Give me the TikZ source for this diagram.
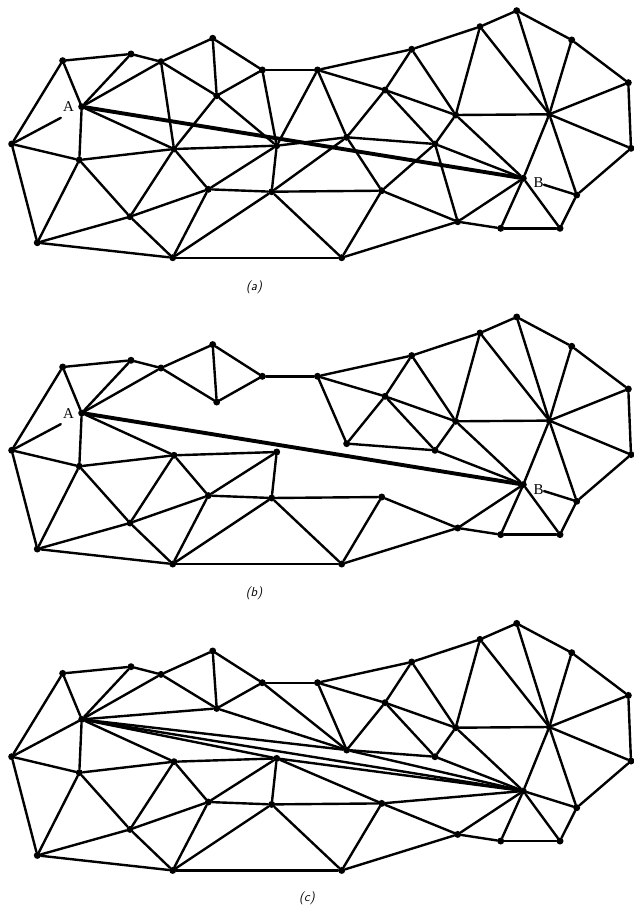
\documentclass[tikz,border=0pt]{standalone}
\usepackage{fontspec}
\newfontfamily\lblfont{Liberation Serif}
\newcommand\VertList{1/62.7/60.7, 2/131/54, 3/161/61.7, 4/212.7/38.3, 5/262.3/70, 6/317.5/70,
 A/81.7/106.7, 7/11.7/144, 8/216.7/95.7, 9/174/149, 10/276.7/145.7, 11/79.3/160,
 12/208.3/189.3, 13/271.7/191.7, 14/130/216.7, 15/37.3/242.7, 16/172.7/257.7,
 17/411.7/49.3, 18/480/26.7, 19/516.7/10.7, 20/571.7/40, 21/628.3/82.7, 22/631/148.3,
 23/385/90, 24/455.7/115, 25/549.3/114.3, 26/346.7/137.3, 27/435/144, B/523.3/178.3,
 28/576.7/195, 29/381.7/190.7, 30/457.7/221.7, 31/500.7/228.3, 32/560/228.3, 33/341.7/257.7}
\newcommand\BaseEdges{1/2, 2/3, 3/4, 4/5, 5/6, 6/17, 17/18, 18/19, 19/20, 20/21, 21/22, 22/28,
 28/32, 32/31, 31/30, 30/33, 33/16, 16/15, 15/7, 7/1,
 1/A, A/2, A/3, A/11, A/9, 3/8, 4/8, 5/8, 7/11, 11/15, 11/14, 11/9, 14/15, 14/16, 9/14,
 9/12, 12/14, 12/16, 9/10, 10/12, 10/13, 12/13, 13/16, 13/33, 13/29,
 6/23, 6/26, 17/23, 17/24, 23/24, 23/26, 23/27, 18/24, 18/25, 19/25, 20/25, 21/25, 22/25,
 24/25, 24/27, 24/B, 25/B, 25/28, 26/27, 27/B, 29/30, 29/33, 30/B, 31/B, 32/B}
\newcommand\ExtraA{3/9, 8/9, 8/10, 5/10, 6/10, 10/26, 13/26, 26/29, 27/29, 27/30}
\newcommand\ExtraC{A/8, A/26, 8/26, 5/26, 26/B, A/10, 10/B, 10/29, 29/B, A/B}
\newcommand\MkVerts[1]{\foreach \n/\x/\y in \VertList {\node[vdot] (#1-\n) at (\x,\y) {};}}
\newcommand\MkEdges[2]{\foreach \u/\v in #2 {\draw[edge] (#1-\u) -- (#1-\v);}}
\newcommand\MkLabels[1]{%
 \node[vlabel] (#1-la) at (68.5,107) {A};
 \node[vlabel] (#1-lb) at (538.5,183) {B};
 \draw[edge, shorten >=20pt] (#1-7) -- (#1-A);
 \draw[edge, shorten <=18pt] (#1-B) -- (#1-28);
 \draw[heavy] (#1-A) -- (#1-B);}
\begin{document}
\begin{tikzpicture}[x=1pt,y=-1pt,
  edge/.style={line width=2.4pt, line cap=round},
  heavy/.style={line width=3.9pt, line cap=round},
  vdot/.style={circle, fill=black, inner sep=0pt, minimum size=7pt},
  vlabel/.style={font=\lblfont\fontsize{15}{15}\selectfont, inner sep=0pt},
  caption/.style={font=\sffamily\itshape\fontsize{13}{13}\selectfont, inner sep=0pt}]
\useasboundingbox (0,0) rectangle (634,907);
% panel (a)
\begin{scope}
 \MkVerts{a}
 \MkEdges{a}{\BaseEdges}
 \MkEdges{a}{\ExtraA}
 \MkLabels{a}
\end{scope}
% panel (b)
\begin{scope}[yshift=-306.3pt]
 \MkVerts{b}
 \MkEdges{b}{\BaseEdges}
 \MkLabels{b}
\end{scope}
% panel (c)
\begin{scope}[yshift=-612.7pt]
 \MkVerts{c}
 \MkEdges{c}{\BaseEdges}
 \MkEdges{c}{\ExtraC}
 \draw[edge] (c-7) -- (c-A);
 \draw[edge] (c-B) -- (c-28);
\end{scope}
\node[caption] (capa) at (254,287) {(a)};
\node[caption] (capb) at (254,593) {(b)};
\node[caption] (capc) at (307,898) {(c)};
\end{tikzpicture}
\end{document}
